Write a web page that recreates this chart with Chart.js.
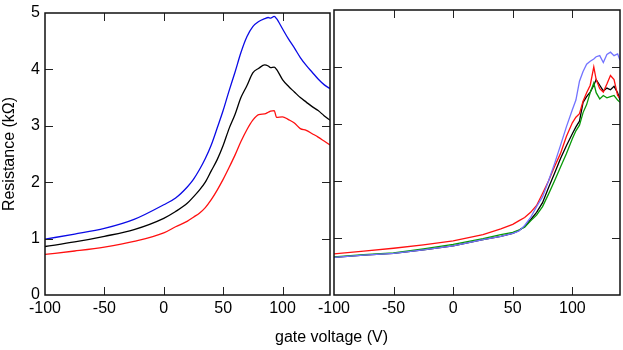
<!DOCTYPE html>
<html>
<head>
<meta charset="utf-8">
<script src="https://cdn.jsdelivr.net/npm/chart.js@4.4.1/dist/chart.umd.min.js"></script>
<style>
  body { margin: 0; background: #fff; }
  #wrap { position: relative; width: 623px; height: 350px; overflow: hidden; }
  #leftChart { position: absolute; left: 0; top: 0; }
  #rightChart { position: absolute; left: 300px; top: 0; }
  #xTitle {
    position: absolute; left: 0; width: 663px; top: 328px;
    text-align: center; font: 16px "Liberation Sans", Arial, sans-serif; color: #000;
  }
</style>
</head>
<body>
<div id="wrap">
  <canvas id="leftChart" width="333" height="350"></canvas>
  <canvas id="rightChart" width="323" height="350"></canvas>
  <div id="xTitle">gate voltage (V)</div>
</div>
<script>
// ---------- data ----------
const voltageTicks = [-100, -50, 0, 50, 100];
const resistanceTicks = [0, 1, 2, 3, 4, 5];

// left panel
const leftVoltage = [-100, -75, -50, -25, 0, 10, 20, 25, 30, 35, 40, 45, 50, 55, 60, 65, 70, 75, 80, 85, 88, 90, 93, 95, 100, 105, 110, 115, 120, 125, 130, 135, 140];
const leftBlue  = [0.99, 1.08, 1.18, 1.34, 1.60, 1.72, 1.92, 2.05, 2.22, 2.42, 2.66, 2.96, 3.27, 3.62, 3.95, 4.30, 4.58, 4.76, 4.85, 4.90, 4.92, 4.91, 4.94, 4.90, 4.72, 4.54, 4.38, 4.21, 4.07, 3.95, 3.83, 3.73, 3.66];
const leftBlack = [0.86, 0.94, 1.04, 1.16, 1.36, 1.48, 1.63, 1.74, 1.86, 2.00, 2.20, 2.40, 2.65, 2.95, 3.20, 3.50, 3.71, 3.94, 4.02, 4.08, 4.06, 4.03, 4.04, 4.00, 3.82, 3.70, 3.60, 3.50, 3.42, 3.34, 3.27, 3.18, 3.10];
const leftRed   = [0.72, 0.78, 0.85, 0.95, 1.10, 1.21, 1.31, 1.38, 1.45, 1.55, 1.69, 1.86, 2.05, 2.26, 2.48, 2.72, 2.93, 3.10, 3.20, 3.21, 3.24, 3.26, 3.27, 3.15, 3.16, 3.11, 3.05, 2.95, 2.92, 2.86, 2.80, 2.73, 2.66];

// right panel
const rightVoltage = [-100, -75, -50, -25, 0, 25, 40, 50, 55, 60, 65, 70, 75, 80, 85, 90, 95, 100, 103, 106, 109, 112, 115, 118, 120, 123, 126, 129, 132, 135, 138, 140];
const rightBlue  = [0.66, 0.70, 0.73, 0.79, 0.86, 0.97, 1.03, 1.08, 1.12, 1.22, 1.36, 1.55, 1.72, 2.00, 2.30, 2.62, 2.95, 3.25, 3.42, 3.75, 3.92, 4.05, 4.10, 4.14, 4.18, 4.20, 4.08, 4.22, 4.26, 4.20, 4.23, 4.12];
const rightRed   = [0.72, 0.77, 0.82, 0.88, 0.95, 1.06, 1.16, 1.24, 1.30, 1.36, 1.45, 1.57, 1.78, 2.00, 2.25, 2.48, 2.78, 3.02, 3.12, 3.18, 3.40, 3.55, 3.68, 4.00, 3.78, 3.62, 3.56, 3.70, 3.85, 3.78, 3.50, 3.45];
const rightGreen = [0.67, 0.71, 0.74, 0.81, 0.89, 0.99, 1.06, 1.10, 1.14, 1.19, 1.30, 1.40, 1.55, 1.77, 2.00, 2.24, 2.48, 2.74, 2.88, 2.98, 3.20, 3.34, 3.55, 3.72, 3.55, 3.44, 3.50, 3.46, 3.48, 3.50, 3.42, 3.38];
const rightBlack = [0.66, 0.70, 0.73, 0.79, 0.86, 0.97, 1.03, 1.08, 1.13, 1.20, 1.32, 1.45, 1.62, 1.88, 2.13, 2.39, 2.62, 2.83, 2.95, 3.05, 3.38, 3.48, 3.56, 3.68, 3.78, 3.68, 3.58, 3.63, 3.60, 3.66, 3.55, 3.42];

const FONT = { family: '"Liberation Sans", Arial, sans-serif', size: 16, lineHeight: 1 };
const TICK_LEN = 8;

const pts = (xs, ys) => xs.map((v, i) => ({ x: v, y: ys[i] }));

// frame with inward ticks on all four sides
const framePlugin = {
  id: 'frame',
  afterDraw(chart) {
    const { ctx, chartArea: { left, right, top, bottom }, scales: { x, y } } = chart;
    ctx.save();
    ctx.strokeStyle = '#222';
    ctx.lineWidth = 1;
    ctx.beginPath();
    voltageTicks.forEach(v => {
      const px = Math.round(x.getPixelForValue(v)) + 0.5;
      if (px <= left + 2 || px >= right - 2) return;
      ctx.moveTo(px, bottom); ctx.lineTo(px, bottom - TICK_LEN);
      ctx.moveTo(px, top); ctx.lineTo(px, top + TICK_LEN);
    });
    resistanceTicks.forEach(v => {
      const py = Math.round(y.getPixelForValue(v)) + 0.5;
      if (py <= top + 2 || py >= bottom - 2) return;
      ctx.moveTo(left, py); ctx.lineTo(left + TICK_LEN, py);
      ctx.moveTo(right, py); ctx.lineTo(right - TICK_LEN, py);
    });
    ctx.stroke();
    ctx.lineWidth = 1.5;
    ctx.strokeStyle = '#111';
    ctx.strokeRect(left, top, right - left, bottom - top);
    ctx.restore();
  }
};

function makeScales(showY) {
  return {
    x: {
      type: 'linear', min: -100, max: 140,
      grid: { display: false, drawTicks: false },
      border: { display: false },
      afterBuildTicks: s => { s.ticks = voltageTicks.map(v => ({ value: v })); },
      afterFit: s => { s.height = 55; },
      ticks: { color: '#000', font: FONT, padding: 6, maxRotation: 0, autoSkip: false }
    },
    y: {
      type: 'linear', min: 0, max: 5, display: showY,
      grid: { display: false, drawTicks: false },
      border: { display: false },
      afterBuildTicks: s => { s.ticks = resistanceTicks.map(v => ({ value: v })); },
      afterFit: s => { s.width = showY ? 45 : 0; },
      ticks: { color: '#000', font: FONT, padding: 5 },
      title: { display: showY, text: 'Resistance (kΩ)', color: '#000', font: { ...FONT, lineHeight: 1.2 }, padding: { top: 0, bottom: 0 } }
    }
  };
}

const lineStyle = (color, curved) => ({
  borderColor: color, borderWidth: 1.3, pointRadius: 0, fill: false,
  cubicInterpolationMode: curved ? 'monotone' : 'default', tension: 0
});

new Chart(document.getElementById('leftChart'), {
  type: 'line',
  data: {
    datasets: [
      { label: 'blue', data: pts(leftVoltage, leftBlue), ...lineStyle('#0a0ae6', true) },
      { label: 'black', data: pts(leftVoltage, leftBlack), ...lineStyle('#000000', true) },
      { label: 'red', data: pts(leftVoltage, leftRed), ...lineStyle('#ff1010', true) }
    ]
  },
  options: {
    responsive: false, animation: false,
    layout: { padding: { top: 10, right: 3, left: 0, bottom: 0 } },
    plugins: { legend: { display: false }, tooltip: { enabled: false } },
    scales: makeScales(true)
  },
  plugins: [framePlugin]
});

new Chart(document.getElementById('rightChart'), {
  type: 'line',
  data: {
    datasets: [
      { label: 'blue', data: pts(rightVoltage, rightBlue), ...lineStyle('#7373ff', false) },
      { label: 'red', data: pts(rightVoltage, rightRed), ...lineStyle('#ff1010', false) },
      { label: 'green', data: pts(rightVoltage, rightGreen), ...lineStyle('#089a08', false) },
      { label: 'black', data: pts(rightVoltage, rightBlack), ...lineStyle('#000000', false) }
    ]
  },
  options: {
    responsive: false, animation: false,
    layout: { padding: { top: 10, right: 3, left: 34, bottom: 0 } },
    plugins: { legend: { display: false }, tooltip: { enabled: false } },
    scales: makeScales(false)
  },
  plugins: [framePlugin]
});
</script>
</body>
</html>
